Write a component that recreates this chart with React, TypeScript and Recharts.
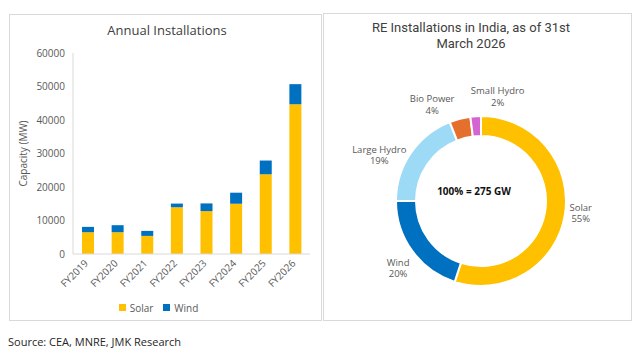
import React from 'react';
import {
  BarChart,
  Bar,
  XAxis,
  YAxis,
  Legend,
  PieChart,
  Pie,
  Cell,
  Label,
} from 'recharts';

const years = ['FY2019', 'FY2020', 'FY2021', 'FY2022', 'FY2023', 'FY2024', 'FY2025', 'FY2026'];
const solarMW = [6500, 6500, 5400, 13950, 12800, 15000, 23800, 44700];
const windMW = [1600, 2100, 1500, 1100, 2300, 3300, 4100, 6000];
const yTicks = [0, 10000, 20000, 30000, 40000, 50000, 60000];

const reSources = ['Solar', 'Wind', 'Large Hydro', 'Bio Power', 'Small Hydro'];
const reShares = [55, 20, 19, 4, 2];
const reColors = ['#FFC000', '#0070C0', '#9DDAF6', '#E5702E', '#D563D2'];

// hand placed labels in the original, nudged from the default spot
const labelNudge: Record<string, [number, number]> = {
  Solar: [1, -4],
  Wind: [-2, 8],
  'Large Hydro': [-19, 10],
  'Bio Power': [-24, 0],
  'Small Hydro': [23, -5],
};

const FONT = '"Open Sans", sans-serif';
const GREY = '#595959';
const RAD = Math.PI / 180;

const barData = years.map((y, i) => ({ year: y, solar: solarMW[i], wind: windMW[i] }));
const pieData = reSources.map((s, i) => ({ name: s, value: reShares[i] }));

const YearTick = ({ x, y, payload }: any) => (
  <g transform={`translate(${x + 1},${y + 2})`}>
    <text textAnchor="end" transform="rotate(-45)" fontSize={10} fill={GREY} fontFamily={FONT}>
      {payload.value}
    </text>
  </g>
);

const SliceLabel = ({ cx, cy, midAngle, name, value }: any) => {
  const r = 100;
  const [dx, dy] = labelNudge[name] || [0, 0];
  const x = cx + r * Math.cos(-midAngle * RAD) + dx;
  const y = cy + r * Math.sin(-midAngle * RAD) + dy;
  const style = { fontSize: 9.5, fill: GREY, fontFamily: FONT };
  return (
    <g>
      <text x={x} y={y - 2} textAnchor="middle" {...style}>{name}</text>
      <text x={x} y={y + 9.5} textAnchor="middle" {...style}>{value}%</text>
    </g>
  );
};

const titleStyle: React.CSSProperties = {
  position: 'absolute',
  textAlign: 'center',
  fontSize: 13,
  lineHeight: '15px',
  color: '#404040',
};

export default function App() {
  return (
    <div style={{ position: 'absolute', left: 0, top: 0, width: 640, height: 360, background: '#fff', fontFamily: FONT }}>
      {/* left panel */}
      <div style={{ position: 'absolute', left: 9, top: 14, width: 313, height: 307, border: '1px solid #d9d9d9', boxSizing: 'border-box' }} />
      <div style={{ ...titleStyle, left: 9, top: 23, width: 316 }}>Annual Installations</div>
      <div style={{ position: 'absolute', left: 9, top: 14 }}>
        <BarChart width={313} height={307} data={barData} margin={{ top: 39, right: 12, bottom: 6, left: 8 }}>
          <XAxis
            dataKey="year"
            tick={<YearTick />}
            tickLine={false}
            axisLine={{ stroke: '#d9d9d9' }}
            interval={0}
            height={41}
          />
          <YAxis
            ticks={yTicks}
            domain={[0, 60000]}
            width={56}
            tickLine={false}
            axisLine={{ stroke: '#d9d9d9' }}
            tick={{ fontSize: 10, fill: GREY, fontFamily: FONT }}
          >
            <Label
              value="Capacity (MW)"
              angle={-90}
              position="insideLeft"
              offset={6}
              style={{ fontSize: 10, fill: GREY, fontFamily: FONT, textAnchor: 'middle' }}
            />
          </YAxis>
          <Legend
            verticalAlign="bottom"
            height={20}
            iconType="square"
            iconSize={7}
            formatter={(v: string) => <span style={{ color: GREY, fontSize: 10, fontFamily: FONT }}>{v}</span>}
          />
          <Bar dataKey="solar" name="Solar" stackId="a" fill="#FFC000" barSize={12} isAnimationActive={false} />
          <Bar dataKey="wind" name="Wind" stackId="a" fill="#0070C0" barSize={12} isAnimationActive={false} />
        </BarChart>
      </div>

      {/* right panel */}
      <div style={{ position: 'absolute', left: 323, top: 13, width: 309, height: 308, border: '1px solid #d9d9d9', boxSizing: 'border-box' }} />
      <div style={{ ...titleStyle, fontFamily: 'Roboto, sans-serif', lineHeight: '16px', left: 323, top: 20, width: 296 }}>
        RE Installations in India, as of 31st
      </div>
      <div style={{ ...titleStyle, fontFamily: 'Roboto, sans-serif', lineHeight: '16px', left: 323, top: 36, width: 296 }}>
        March 2026
      </div>
      <div style={{ position: 'absolute', left: 323, top: 13 }}>
        <PieChart width={309} height={307}>
          <Pie
            data={pieData}
            dataKey="value"
            nameKey="name"
            cx={153}
            cy={183}
            innerRadius={65}
            outerRadius={85}
            startAngle={90}
            endAngle={-270}
            stroke="#fff"
            strokeWidth={2}
            label={<SliceLabel />}
            labelLine={false}
            isAnimationActive={false}
          >
            {pieData.map((d, i) => (
              <Cell key={d.name} fill={reColors[i]} />
            ))}
          </Pie>
        </PieChart>
      </div>
      <div style={{ position: 'absolute', left: 424, top: 184, width: 100, textAlign: 'center', fontSize: 10, fontWeight: 700, color: '#111', lineHeight: '14px' }}>
        100% = 275 GW
      </div>

      <div style={{ position: 'absolute', left: 8, top: 334, fontSize: 11, color: '#262626' }}>
        Source: CEA, MNRE, JMK Research
      </div>
    </div>
  );
}
